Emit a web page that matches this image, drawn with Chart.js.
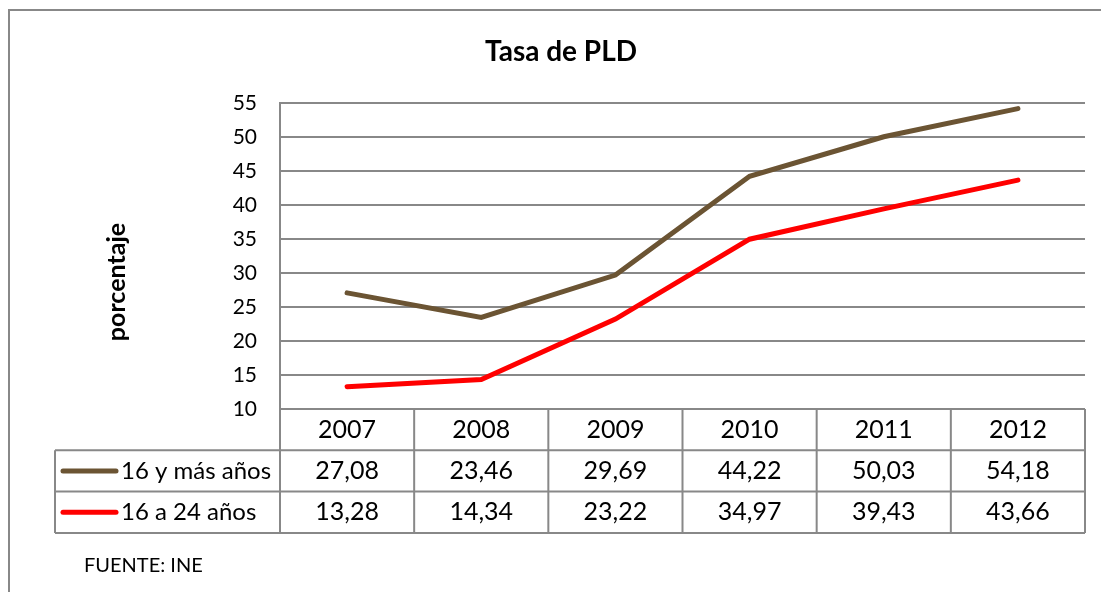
<!DOCTYPE html>
<html>
<head>
<meta charset="utf-8">
<script src="https://cdn.jsdelivr.net/npm/chart.js@4.4.1/dist/chart.umd.min.js"></script>
<style>
  html, body { margin: 0; padding: 0; background: #fff; }
  #wrap { width: 1101px; height: 592px; }
</style>
</head>
<body>
<div id="wrap"><canvas id="line-chartcanvas" width="1101" height="592"></canvas></div>
<script>
// datos de la tabla (FUENTE: INE)
var years = ["2007", "2008", "2009", "2010", "2011", "2012"];
var seriesNames = ["16 y más años", "16 a 24 años"];
var mayores16 = [27.08, 23.46, 29.69, 44.22, 50.03, 54.18];
var jovenes16a24 = [13.28, 14.34, 23.22, 34.97, 39.43, 43.66];
var yTicks = [10, 15, 20, 25, 30, 35, 40, 45, 50, 55];

var FONT = "Lato, 'Open Sans', sans-serif";
var GRID = "#888888";
var colors = ["#6b5433", "#ff0000"];

function fmt(v) {
  return v.toFixed(2).replace(".", ",");
}

// tabla de datos bajo el eje x + marco + textos sueltos
var dataTablePlugin = {
  id: "dataTable",
  afterDraw: function(chart) {
    var ctx = chart.ctx;
    var area = chart.chartArea;
    var xs = chart.scales.x;
    var n = years.length;
    var colW = (area.right - area.left) / n;
    var rowH = 41.3;
    var top = area.bottom;
    var legendLeft = 55;
    var rows = [mayores16, jovenes16a24];

    ctx.save();
    // marco exterior
    ctx.strokeStyle = GRID;
    ctx.lineWidth = 2;
    ctx.beginPath();
    ctx.moveTo(9, 600);
    ctx.lineTo(9, 10);
    ctx.lineTo(1110, 10);
    ctx.stroke();

    // lineas de la tabla
    ctx.lineWidth = 2;
    ctx.beginPath();
    for (var r = 1; r <= 3; r++) {
      var y = top + r * rowH;
      ctx.moveTo(legendLeft, y);
      ctx.lineTo(area.right, y);
    }
    for (var c = 0; c <= n; c++) {
      var x = area.left + c * colW;
      ctx.moveTo(x, top);
      ctx.lineTo(x, top + 3 * rowH);
    }
    ctx.moveTo(legendLeft, top + rowH);
    ctx.lineTo(legendLeft, top + 3 * rowH);
    ctx.stroke();

    // textos
    ctx.fillStyle = "#000";
    ctx.textAlign = "center";
    ctx.textBaseline = "middle";
    ctx.font = "25px " + FONT;
    for (var i = 0; i < n; i++) {
      var cx = xs.getPixelForValue(i);
      ctx.fillText(years[i], cx, top + rowH * 0.5);
      for (var s = 0; s < rows.length; s++) {
        ctx.fillText(fmt(rows[s][i]), cx, top + rowH * (s + 1.5));
      }
    }
    // leyenda
    ctx.textAlign = "left";
    ctx.font = "24px " + FONT;
    for (var s = 0; s < rows.length; s++) {
      var ly = top + rowH * (s + 1.5);
      ctx.strokeStyle = colors[s];
      ctx.lineWidth = 5;
      ctx.lineCap = "round";
      ctx.beginPath();
      ctx.moveTo(63, ly);
      ctx.lineTo(116, ly);
      ctx.stroke();
      ctx.fillText(seriesNames[s], 121, ly);
    }

    // titulo eje y
    ctx.save();
    ctx.translate(117, 282);
    ctx.rotate(-Math.PI / 2);
    ctx.textAlign = "center";
    ctx.font = "bold 25px " + FONT;
    ctx.fillText("porcentaje", 0, 0);
    ctx.restore();

    // fuente
    ctx.font = "20px " + FONT;
    ctx.textAlign = "left";
    ctx.fillText("FUENTE: INE", 84, 566);
    ctx.restore();
  }
};

var chartdata = {
  labels: years,
  datasets: [
    {
      label: seriesNames[0],
      data: mayores16,
      borderColor: colors[0],
      backgroundColor: colors[0],
      borderWidth: 5,
      borderCapStyle: "round",
      pointRadius: 0,
      tension: 0,
      fill: false
    },
    {
      label: seriesNames[1],
      data: jovenes16a24,
      borderColor: colors[1],
      backgroundColor: colors[1],
      borderWidth: 5,
      borderCapStyle: "round",
      pointRadius: 0,
      tension: 0,
      fill: false
    }
  ]
};

var ctx = document.getElementById("line-chartcanvas");

var LineGraph = new Chart(ctx, {
  type: "line",
  data: chartdata,
  plugins: [dataTablePlugin],
  options: {
    responsive: false,
    animation: false,
    layout: { padding: { top: 10, left: 37, right: 16, bottom: 59 } },
    plugins: {
      legend: { display: false },
      tooltip: { enabled: false },
      title: {
        display: true,
        text: "Tasa de PLD",
        color: "#000",
        font: { family: FONT, size: 28, weight: "bold", lineHeight: 1.2 },
        padding: { top: 25, bottom: 34.4 }
      }
    },
    scales: {
      x: {
        offset: true,
        ticks: { display: false },
        grid: { display: false },
        border: { display: false },
        afterFit: function(s) { s.height = 124; }
      },
      y: {
        min: yTicks[0],
        max: yTicks[yTicks.length - 1],
        afterFit: function(s) { s.width = 243; },
        afterBuildTicks: function(s) {
          s.ticks = yTicks.map(function(v) { return { value: v }; });
        },
        ticks: {
          color: "#000",
          padding: 23,
          font: { family: FONT, size: 21 }
        },
        grid: { color: GRID, lineWidth: 2, drawTicks: false },
        border: { display: true, color: GRID, width: 2 }
      }
    }
  }
});
</script>
</body>
</html>
